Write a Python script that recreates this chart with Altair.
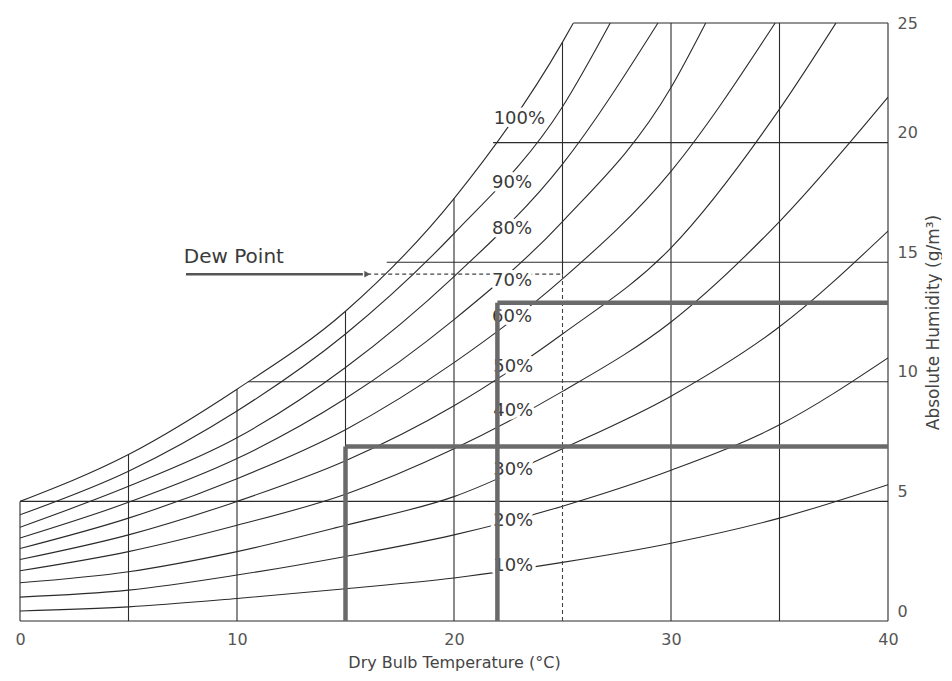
import altair as alt
import pandas as pd

# ---- relative humidity curves: dry-bulb temperature (C) -> absolute humidity (g/m3)
temps = [0, 5, 10, 15, 20, 25, 30, 35, 40]
rh10 = [0.42, 0.59, 0.94, 1.35, 1.8, 2.45, 3.25, 4.3, 5.7]
rh20 = [1.0, 1.29, 1.92, 2.7, 3.6, 4.8, 6.3, 8.2, 11.0]
rh30 = [1.6, 2.06, 2.9, 4.0, 5.2, 7.2, 9.4, 12.3, 16.3]
rh40 = [2.1, 2.9, 4.0, 5.3, 7.2, 9.6, 12.5, 16.7, 21.9]
rh50_t = [0, 5, 10, 15, 20, 25, 30, 35, 37.6]
rh50 = [2.57, 3.6, 5.0, 6.7, 9.0, 12.0, 15.6, 21.4, 25.0]
rh60_t = [0, 5, 10, 15, 20, 25, 30, 34.8]
rh60 = [3.03, 4.3, 5.95, 8.0, 10.8, 14.3, 18.8, 25.0]
rh70_t = [0, 5, 10, 15, 20, 25, 30, 31.6]
rh70 = [3.47, 4.96, 6.79, 9.3, 12.6, 16.7, 22.3, 25.0]
rh80_t = [0, 5, 10, 15, 20, 25, 29.4]
rh80 = [3.92, 5.63, 7.66, 10.6, 14.4, 19.1, 25.0]
rh90_t = [0, 5, 10, 15, 20, 25, 27.2]
rh90 = [4.44, 6.26, 8.78, 12.0, 16.2, 21.5, 25.0]
rh100_t = [0, 5, 10, 15, 20, 25, 25.5]
rh100 = [5.0, 6.96, 9.69, 12.95, 17.66, 24.2, 25.0]

# ---- RH labels
rh_names = ["100%", "90%", "80%", "70%", "60%", "50%", "40%", "30%", "20%", "10%"]
label_T = [24.2, 23.6, 23.6, 23.6, 23.6, 23.65, 23.65, 23.65, 23.65, 23.65]
label_H = [21.0, 18.3, 16.4, 14.2, 12.7, 10.6, 8.8, 6.3, 4.2, 2.3]

# ---- grid (only under the saturation curve)
grid_v_T = [0, 5, 10, 15, 20, 30, 35, 40]
grid_v_top = [rh100[0], rh100[1], rh100[2], rh100[3], rh100[4], 25, 25, 25]
grid_h_H = [0, 5, 10, 15, 20, 25]
grid_h_start = [0, 0, 10.5, 16.9, 21.8, 25.5]
grid_25_bottom = 14.5

# ---- dew point illustration
dew_H = 14.5
dew_T_start = 16.0
dew_T_air = 25
arrow_T = [7.65, 15.8]
dew_text_T = 7.55
dew_text_H = 15.2

# ---- thick example boxes
box_T = [15, 22]
box_H = [7.3, 13.3]
box_end = 40

curve_sets = [
    ("10%", temps, rh10), ("20%", temps, rh20), ("30%", temps, rh30),
    ("40%", temps, rh40), ("50%", rh50_t, rh50), ("60%", rh60_t, rh60),
    ("70%", rh70_t, rh70), ("80%", rh80_t, rh80), ("90%", rh90_t, rh90),
    ("100%", rh100_t, rh100),
]
rows = []
for name, ts, hs in curve_sets:
    for t, h in zip(ts, hs):
        rows.append({"rh": name, "x": t, "y": h})
curves_df = pd.DataFrame(rows)

grid_rows = []
for t, top in zip(grid_v_T, grid_v_top):
    grid_rows.append({"x": t, "x2": t, "y": 0, "y2": top})
grid_rows.append({"x": 25, "x2": 25, "y": grid_25_bottom, "y2": rh100[5]})
for h, s in zip(grid_h_H, grid_h_start):
    grid_rows.append({"x": s, "x2": 40, "y": h, "y2": h})
grid_df = pd.DataFrame(grid_rows)

dew_df = pd.DataFrame([
    {"x": dew_T_start, "x2": dew_T_air, "y": dew_H, "y2": dew_H},
    {"x": dew_T_air, "x2": dew_T_air, "y": 0, "y2": dew_H},
])
arrow_df = pd.DataFrame([{"x": arrow_T[0], "x2": arrow_T[1], "y": dew_H, "y2": dew_H}])
head_df = pd.DataFrame([{"x": dew_T_start, "y": dew_H}])
dew_text_df = pd.DataFrame([{"x": dew_text_T, "y": dew_text_H, "t": "Dew Point"}])

box_rows = []
for t, h in zip(box_T, box_H):
    box_rows.append({"x": t, "x2": t, "y": 0, "y2": h})
    box_rows.append({"x": t, "x2": box_end, "y": h, "y2": h})
box_df = pd.DataFrame(box_rows)

labels_df = pd.DataFrame({"t": rh_names, "x": label_T, "y": label_H})

FONT = "DejaVu Sans"
xs = alt.Scale(domain=[0, 40], nice=False, zero=False)
ys = alt.Scale(domain=[0, 25], nice=False, zero=False)

xaxis = alt.Axis(
    values=[0, 10, 20, 30, 40], title="Dry Bulb Temperature (°C)", grid=False,
    domain=False, ticks=False, labelPadding=10, labelFlush=False,
    labelFont=FONT, labelFontSize=16, labelColor="#555",
    titleFont=FONT, titleFontSize=16, titleFontWeight="normal",
    titleColor="#444", titlePadding=7,
)
yaxis = alt.Axis(
    orient="right", values=[0, 5, 10, 15, 20, 25],
    title="Absolute Humidity (g/m³)", grid=False, domain=False, ticks=False,
    labelPadding=9, labelFlush=False,
    labelOffset={"condition": {"test": "datum.value == 25", "value": 0}, "value": -10},
    labelFont=FONT, labelFontSize=16, labelColor="#555",
    titleFont=FONT, titleFontSize=17, titleFontWeight="normal",
    titleColor="#444", titleAngle=270, titleBaseline="top", titlePadding=8,
)

X = alt.X("x:Q", scale=xs, axis=xaxis)
Y = alt.Y("y:Q", scale=ys, axis=yaxis)

grid = alt.Chart(grid_df).mark_rule(color="#2b2b2b", strokeWidth=1.1).encode(
    x=X, x2="x2:Q", y=Y, y2="y2:Q",
)

curves = alt.Chart(curves_df).mark_line(
    color="#2b2b2b", strokeWidth=1.1, interpolate="monotone", clip=True
).encode(x=X, y=Y, detail="rh:N")

dew = alt.Chart(dew_df).mark_rule(color="#444", strokeWidth=1.1, strokeDash=[4, 3]).encode(
    x=X, x2="x2:Q", y=Y, y2="y2:Q",
)

halo = alt.Chart(labels_df).mark_text(
    align="right", baseline="middle", font=FONT, fontSize=18,
    color="white", stroke="white", strokeWidth=7, strokeJoin="round",
).encode(x=X, y=Y, text="t:N")
labels = alt.Chart(labels_df).mark_text(
    align="right", baseline="middle", font=FONT, fontSize=18, color="#3a3a3a",
).encode(x=X, y=Y, text="t:N")

boxes = alt.Chart(box_df).mark_rule(color="#6a6a6a", strokeWidth=4.5).encode(
    x=X, x2="x2:Q", y=Y, y2="y2:Q",
)

arrow = alt.Chart(arrow_df).mark_rule(color="#555", strokeWidth=2.5).encode(
    x=X, x2="x2:Q", y=Y, y2="y2:Q",
)
head = alt.Chart(head_df).mark_point(
    shape="triangle-right", filled=True, size=45, color="#555", opacity=1
).encode(x=X, y=Y)
dew_text = alt.Chart(dew_text_df).mark_text(
    align="left", baseline="middle", font=FONT, fontSize=20, color="#3a3a3a"
).encode(x=X, y=Y, text="t:N")

chart = alt.layer(
    grid, curves, dew, halo, labels, boxes, arrow, head, dew_text
).properties(
    width=868, height=598,
    padding={"left": 6, "top": 7, "right": 0, "bottom": 3},
    background="white",
).configure_view(stroke=None)

chart.save("out.html", embed_options={"renderer": "svg", "actions": False})
